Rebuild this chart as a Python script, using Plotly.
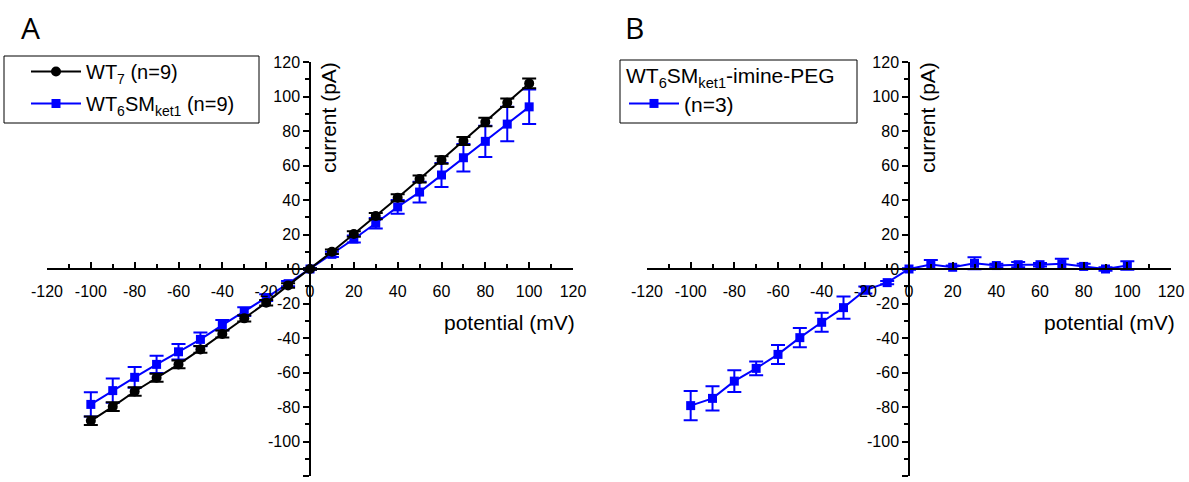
import plotly.graph_objects as go

# ---------------- data ----------------
potential = [-100, -90, -80, -70, -60, -50, -40, -30, -20, -10, 0,
             10, 20, 30, 40, 50, 60, 70, 80, 90, 100]

wt7 = [-88, -79.8, -71, -63, -55.3, -46.6, -37.7, -28.6, -19.5, -9.5, 0,
       10, 20.3, 30.7, 41.3, 52.2, 63.2, 74.2, 85.2, 96.4, 107.6]
wt7_err = [2.5, 2.5, 2.5, 2.3, 2.2, 2, 2, 1.8, 1.6, 1.3, 0.5,
           1.3, 1.6, 1.8, 2, 2, 2.2, 2.3, 2.5, 2.5, 2.8]

sm = [-78.5, -70.5, -62.8, -55.3, -48, -40.8, -32.5, -24.7, -16.6, -8.5, 0,
      8.5, 17.4, 26.5, 36, 44.6, 54.5, 64.5, 74, 84, 94]
sm_err = [7, 7, 6, 5, 4.5, 4, 3, 2.5, 2, 1.5, 0.5,
          1.5, 2, 3, 4, 6, 7, 8, 9, 10, 10]

peg = [-79.2, -75, -65, -57.6, -49.5, -39.8, -30.9, -22.4, -12.2, -7.9, 0,
       2.6, 1, 3.3, 2, 2.5, 2.5, 3, 1.5, 0, 2]
peg_err = [8.5, 7, 6.3, 4, 5.5, 5.6, 5.5, 6.4, 2, 1, 0.5,
           2.6, 1, 3.5, 1, 1.5, 1, 3, 1.5, 1, 2.5]

ticks = list(range(-120, 121, 20))
tick_text = [str(t) if t >= 0 else "-" + str(-t) for t in ticks]

BLUE = "#0000ff"
BLACK = "#000000"
W, H = 1189, 482
FONT = "Liberation Sans, Arial, sans-serif"

fig = go.Figure()

# Panel A
fig.add_trace(go.Scatter(
    x=potential, y=sm, mode="lines+markers", xaxis="x", yaxis="y",
    name="WT<sub>6</sub>SM<sub>ket1</sub> (n=9)", legendrank=2, legend="legend",
    legendgroup="sm",
    line=dict(color=BLUE, width=2),
    marker=dict(symbol="square", size=9, color=BLUE),
    error_y=dict(type="data", array=sm_err, color=BLUE, thickness=2, width=7)))
fig.add_trace(go.Scatter(
    x=potential, y=wt7, mode="lines+markers", xaxis="x", yaxis="y",
    name="WT<sub>7</sub> (n=9)", legendrank=1, legend="legend",
    legendgroup="wt",
    line=dict(color=BLACK, width=2),
    marker=dict(symbol="circle", size=10, color=BLACK),
    error_y=dict(type="data", array=wt7_err, color=BLACK, thickness=2, width=7)))

# Panel B
fig.add_trace(go.Scatter(
    x=potential, y=peg, mode="lines+markers", xaxis="x2", yaxis="y2",
    name="(n=3)", legend="legend2",
    line=dict(color=BLUE, width=2),
    marker=dict(symbol="square", size=9, color=BLUE),
    error_y=dict(type="data", array=peg_err, color=BLUE, thickness=2, width=7)))

ydom = [1 - 476 / H, 1 - 62 / H]
xpos_y0 = 1 - 269 / H


def xaxis_cfg(dom):
    return dict(domain=dom, range=[-120, 120], anchor="free", position=xpos_y0,
                tickvals=ticks, ticktext=tick_text, ticks="inside", ticklen=6,
                tickwidth=1.5, tickcolor="black", ticklabelstandoff=8,
                minor=dict(dtick=10, tick0=0, ticks="inside", ticklen=4, tickcolor="black", tickwidth=1.5),
                showline=True, linecolor="black", linewidth=1.5, showgrid=False,
                zeroline=False, automargin=False,
                tickfont=dict(family=FONT, size=16, color="black"))


def yaxis_cfg(pos):
    return dict(domain=ydom, range=[-120, 120], anchor="free", position=pos,
                tickvals=ticks, ticktext=tick_text, ticks="outside", ticklen=6,
                tickwidth=1.5, tickcolor="black",
                minor=dict(dtick=10, tick0=0, ticks="outside", ticklen=4, tickcolor="black", tickwidth=1.5),
                showline=True, linecolor="black", linewidth=1.5, showgrid=False,
                zeroline=False, automargin=False,
                tickfont=dict(family=FONT, size=16, color="black"))


fig.update_layout(
    width=W, height=H, template="none",
    margin=dict(l=0, r=0, t=0, b=0),
    paper_bgcolor="white", plot_bgcolor="rgba(0,0,0,0)",
    xaxis=dict(**xaxis_cfg([47 / W, 573 / W])),
    yaxis=dict(**yaxis_cfg(310 / W)),
    xaxis2=dict(**xaxis_cfg([647 / W, 1171 / W])),
    yaxis2=dict(**yaxis_cfg(909 / W)),
    legend=dict(x=26 / W, y=1 - 52 / H, xanchor="left", yanchor="top",
                borderwidth=0, bgcolor="rgba(0,0,0,0)",
                itemwidth=50, tracegroupgap=3,
                font=dict(family=FONT, size=20, color="black")),
    legend2=dict(x=624 / W, y=1 - 56 / H, xanchor="left", yanchor="top",
                 borderwidth=0, bgcolor="rgba(0,0,0,0)",
                 itemwidth=50,
                 title=dict(text="WT<sub>6</sub>SM<sub>ket1</sub>-imine-PEG",
                            font=dict(family=FONT, size=21, color="black"), side="top"),
                 font=dict(family=FONT, size=21, color="black")),
    showlegend=True,
)

# legend frames
for x0, y0, x1, y1 in [(4, 56, 259, 123), (620, 60, 857, 123)]:
    fig.add_shape(type="rect", xref="paper", yref="paper",
                  x0=x0 / W, x1=x1 / W, y0=1 - y1 / H, y1=1 - y0 / H,
                  line=dict(color="black", width=1), fillcolor="rgba(0,0,0,0)", layer="below")

annots = [
    dict(text="A", x=30 / W, y=1 - 27 / H),
    dict(text="B", x=634 / W, y=1 - 27 / H),
]
for a in annots:
    fig.add_annotation(text=a["text"], x=a["x"], y=a["y"], xref="paper", yref="paper",
                       showarrow=False, xanchor="center", yanchor="middle",
                       font=dict(family="Open Sans, sans-serif", size=30, color="black"))

for xc, yx in [(328, 118), (927, 118)]:
    fig.add_annotation(text="current (pA)", x=xc / W, y=1 - yx / H, xref="paper", yref="paper",
                       showarrow=False, textangle=-90, xanchor="center", yanchor="middle",
                       font=dict(family=FONT, size=21, color="black"))
for xr in [577, 1177]:
    fig.add_annotation(text="potential (mV)", x=xr / W, y=1 - 322 / H, xref="paper", yref="paper",
                       showarrow=False, xanchor="right", yanchor="middle",
                       font=dict(family=FONT, size=21, color="black"))

fig.write_html("out.html")
